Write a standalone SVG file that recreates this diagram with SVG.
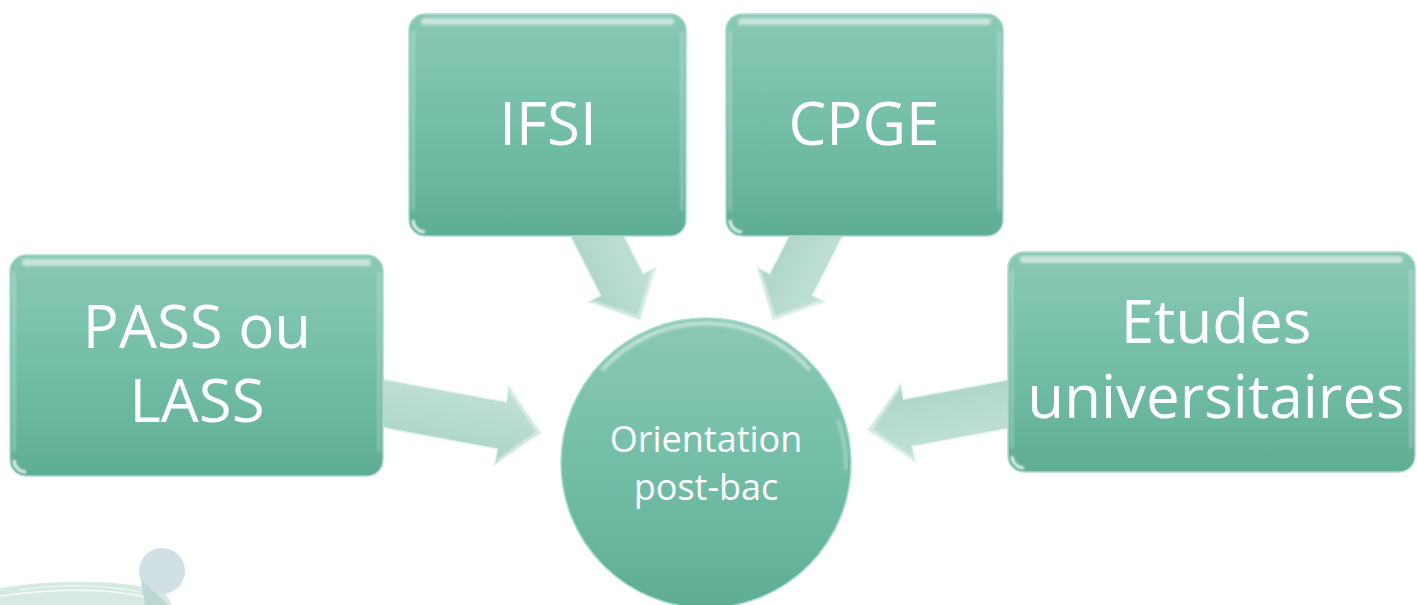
<svg xmlns="http://www.w3.org/2000/svg" width="1417" height="605" viewBox="0 0 1417 605">
  <defs>
    <linearGradient id="boxGrad" x1="0" y1="0" x2="0" y2="1">
      <stop offset="0" stop-color="#8ac8b5"/>
      <stop offset="0.5" stop-color="#74bea7"/>
      <stop offset="1" stop-color="#5fad94"/>
    </linearGradient>
    <linearGradient id="arrowGrad" x1="0" y1="0" x2="0" y2="1">
      <stop offset="0" stop-color="#c2e1d8"/>
      <stop offset="1" stop-color="#acd4c9"/>
    </linearGradient>
    <filter id="blur" x="-20%" y="-50%" width="140%" height="200%">
      <feGaussianBlur stdDeviation="1.5"/>
    </filter>
    <filter id="blur2" x="-20%" y="-50%" width="140%" height="200%">
      <feGaussianBlur stdDeviation="0.8"/>
    </filter>
  </defs>
  <style>
    .box { fill: url(#boxGrad); stroke: #a9ddcf; stroke-width: 1.5; }
    .hlTop { fill: #ffffff; opacity: 0.55; filter: url(#blur); }
    .hlSide { fill: #ffffff; opacity: 0.22; filter: url(#blur); }
    .corner { fill: none; stroke: #ffffff; stroke-width: 3; opacity: 0.85; filter: url(#blur2); }
    .arrow { fill: url(#arrowGrad); stroke: #e4f5ef; stroke-width: 1.5; stroke-linejoin: miter; }
    .arrowHl { fill: none; stroke: #ffffff; stroke-width: 2; opacity: 0.7; filter: url(#blur2); }
    .big { font-family: "Open Sans", "Noto Sans", sans-serif; font-size: 60px; fill: #ffffff; text-anchor: middle; }
    .small { font-family: "Open Sans", "Noto Sans", sans-serif; font-size: 36px; fill: #ffffff; text-anchor: middle; }
  </style>

  <!-- decorative bottom-left -->
  <g id="decoration">
    <path d="M0,588 C50,580 120,578 165,592 L172,605 L0,605 Z" fill="#d6e9e3"/>
    <path d="M0,596 C60,588 110,588 150,598" fill="none" stroke="#ffffff" stroke-width="1.5" opacity="0.8"/>
    <path d="M20,590 C60,584 100,584 140,592" fill="none" stroke="#ffffff" stroke-width="1" opacity="0.7"/>
    <circle cx="162" cy="571" r="23" fill="#d1e0e4"/>
    <path d="M141,580 C150,588 160,596 168,605 L145,605 Z" fill="#bcd6d4"/>
  </g>

  <!-- connectors -->
  <g id="connectors">
    <g transform="translate(367,400.5) rotate(10.5)">
      <polygon class="arrow" points="0,-24 137,-24 137,-40 177,0 137,40 137,24 0,24"/>
      <polyline class="arrowHl" points="139,-36 174,0 139,36"/>
    </g>
    <g transform="translate(586.5,215) rotate(63)">
      <polygon class="arrow" points="0,-24 78,-24 78,-38 118,0 78,38 78,24 0,24"/>
      <polyline class="arrowHl" points="80,-34 115,0 80,34"/>
    </g>
    <g transform="translate(826.5,215) rotate(117)">
      <polygon class="arrow" points="0,-24 78,-24 78,-38 118,0 78,38 78,24 0,24"/>
      <polyline class="arrowHl" points="80,-34 115,0 80,34"/>
    </g>
    <g transform="translate(1025,401) rotate(169.5)">
      <polygon class="arrow" points="0,-24 119,-24 119,-40 160,0 119,40 119,24 0,24"/>
      <polyline class="arrowHl" points="121,-36 157,0 121,36"/>
    </g>
  </g>

  <!-- PASS ou LASS -->
  <g id="node-pass">
    <rect class="box" x="10" y="255" width="373" height="221" rx="16"/>
    <rect class="hlTop" x="22" y="259" width="349" height="7" rx="3.5"/>
    <rect class="hlSide" x="12" y="272" width="4" height="180" rx="2"/>
    <rect class="hlSide" x="377" y="272" width="4" height="180" rx="2"/>
    <path class="corner" d="M14,460 A12,12 0 0 0 26,472"/>
    <text class="big" x="197" y="348">PASS ou</text>
    <text class="big" x="197" y="422">LASS</text>
  </g>

  <!-- IFSI -->
  <g id="node-ifsi">
    <rect class="box" x="409" y="14" width="277" height="222" rx="16"/>
    <rect class="hlTop" x="421" y="18" width="253" height="7" rx="3.5"/>
    <rect class="hlSide" x="411" y="31" width="4" height="180" rx="2"/>
    <rect class="hlSide" x="680" y="31" width="4" height="180" rx="2"/>
    <path class="corner" d="M413,220 A12,12 0 0 0 425,232"/>
    <text class="big" x="548" y="145">IFSI</text>
  </g>

  <!-- CPGE -->
  <g id="node-cpge">
    <rect class="box" x="726" y="14" width="277" height="222" rx="16"/>
    <rect class="hlTop" x="738" y="18" width="253" height="7" rx="3.5"/>
    <rect class="hlSide" x="728" y="31" width="4" height="180" rx="2"/>
    <rect class="hlSide" x="997" y="31" width="4" height="180" rx="2"/>
    <path class="corner" d="M730,220 A12,12 0 0 0 742,232"/>
    <text class="big" x="864" y="145">CPGE</text>
  </g>

  <!-- Etudes universitaires -->
  <g id="node-etudes">
    <rect class="box" x="1008" y="252" width="407" height="220" rx="16"/>
    <rect class="hlTop" x="1020" y="256" width="383" height="7" rx="3.5"/>
    <rect class="hlSide" x="1010" y="269" width="4" height="180" rx="2"/>
    <rect class="hlSide" x="1409" y="269" width="4" height="180" rx="2"/>
    <path class="corner" d="M1012,456 A12,12 0 0 0 1024,468"/>
    <text class="big" x="1216" y="343">Etudes</text>
    <text class="big" x="1216" y="418">universitaires</text>
  </g>

  <!-- Orientation post-bac -->
  <g id="node-orientation">
    <circle cx="706" cy="463" r="145" fill="url(#boxGrad)" stroke="#a9ddcf" stroke-width="1.5"/>
    <path d="M602,370 A139,139 0 0 1 810,370" fill="none" stroke="#ffffff" stroke-width="4" opacity="0.5" filter="url(#blur)"/>
    <path d="M838,420 A139,139 0 0 1 846,470" fill="none" stroke="#ffffff" stroke-width="3" opacity="0.35" filter="url(#blur)"/>
    <text class="small" x="706" y="452">Orientation</text>
    <text class="small" x="706" y="500">post-bac</text>
  </g>
</svg>
